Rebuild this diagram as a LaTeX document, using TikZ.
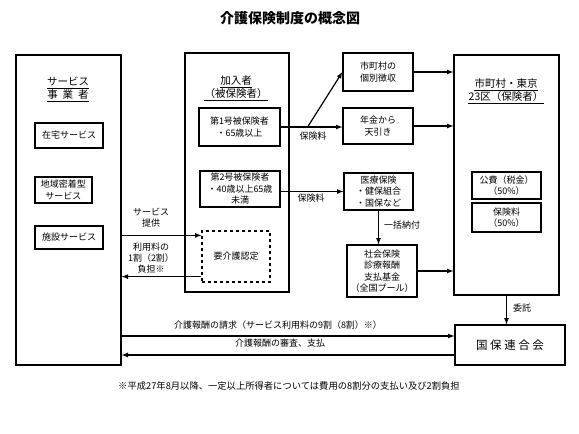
\documentclass[tikz,border=0pt]{standalone}
\usepackage{fontspec}
\setmainfont{Noto Sans CJK JP}
\usepackage{tikz}
\usepackage{xcolor}

\begin{document}
\begin{tikzpicture}[x=1pt,y=-1pt,
    bigbox/.style={draw,line width=1.2pt},
    box/.style={draw,line width=1.2pt,align=center,inner sep=1pt,font=\fontsize{9}{11.5}\selectfont},
    head/.style={inner sep=0pt,font=\fontsize{10.5}{14}\selectfont},
    lbl/.style={align=center,font=\fontsize{9}{11}\selectfont},
    arr/.style={-latex,line width=1.2pt}]
    \useasboundingbox (0,0) rectangle (579,434);

    % Title
    \node[font=\fontsize{14}{16}\selectfont\bfseries] (title) at (290,18) {介護保険制度の概念図};

    % Service providers
    \node[bigbox,minimum width=105pt,minimum height=310pt] (prov) at (68.5,210) {};
    \node[head] (provhead1) at (68,81) {サービス};
    \node[head] (provhead2) at (68,95) {事\hspace{5pt}業\hspace{5pt}者};
    \node[box,minimum width=68pt,minimum height=25pt] (zaitaku) at (69,135.5) {在宅サービス};
    \node[box,minimum width=57pt,minimum height=26pt] (chiiki) at (63.5,190) {地域密着型\\サービス};
    \node[box,minimum width=68pt,minimum height=23pt] (shisetsu) at (69,237.5) {施設サービス};

    % Insured persons
    \node[bigbox,minimum width=104pt,minimum height=239pt] (kanyu) at (237,172.5) {};
    \node[head] (kanyuhead1) at (236,81) {加入者};
    \node[head] (kanyuhead2) at (236,94) {（被保険者）};
    \node[box,minimum width=81pt,minimum height=38pt] (dai1) at (239.5,127) {第1号被保険者\\・65歳以上};
    \node[box,minimum width=80pt,minimum height=36pt] (dai2) at (240,189) {第2号被保険者\\・40歳以上65歳\\未満};
    \node[box,dashed,minimum width=68pt,minimum height=51pt] (yokaigo) at (236,256.5) {要介護認定};

    % Collection
    \node[box,minimum width=70pt,minimum height=38pt] (kobetsu) at (378,72) {市町村の\\個別徴収};
    \node[box,minimum width=70pt,minimum height=36pt] (nenkin) at (378,126) {年金から\\天引き};
    \node[box,minimum width=69pt,minimum height=37pt] (iryo) at (378.5,191.5) {医療保険\\・健保組合\\・国保など};
    \node[box,minimum width=70pt,minimum height=52pt] (shiharai) at (382,271) {社会保険\\診療報酬\\支払基金\\（全国プール）};

    % Insurer
    \node[bigbox,minimum width=105pt,minimum height=240pt] (hoken) at (506.5,175) {};
    \node[head] (hokenhead1) at (506,83) {市町村・東京};
    \node[head] (hokenhead2) at (506,97) {23区（保険者）};
    \node[box,minimum width=69pt,minimum height=27pt] (kohi) at (506.5,185.5) {公費（税金）\\（50\%）};
    \node[box,minimum width=69pt,minimum height=29pt] (hokenryo) at (506.5,217.5) {保険料\\（50\%）};
    \node[box,minimum width=110pt,minimum height=40pt,font=\fontsize{11.5}{13}\selectfont] (kokuho) at (510,345) {国 保 連 合 会};

    % Underlines
    \foreach \h in {provhead1,provhead2,kanyuhead1,kanyuhead2,hokenhead1,hokenhead2}
        \draw[line width=1pt] ([yshift=-3pt]\h.base west) -- ([yshift=-3pt]\h.base east);

    % Premiums
    \coordinate (br1) at ([xshift=27pt]dai1.east);
    \draw[line width=1.2pt] (dai1.east) -- (br1);
    \draw[arr] (br1) -- (kobetsu.west);
    \draw[arr] (br1) -- (nenkin.west |- br1);
    \node[lbl] (ryo1) at (313,136) {保険料};
    \draw[arr] (kobetsu.east) -- (hoken.west |- kobetsu.east);
    \draw[arr] (nenkin.east) -- (hoken.west |- nenkin.east);
    \draw[arr] (dai2.east |- iryo.west) -- (iryo.west);
    \node[lbl] (ryo2) at (311,198) {保険料};
    \draw[arr] (iryo.south) -- (iryo.south |- shiharai.north);
    \node[lbl] (ikkatsu) at (402,225) {一括納付};
    \draw[arr] (shiharai.east) -- (hoken.west |- shiharai.east);
    \draw[arr] (hoken.south) -- (hoken.south |- kokuho.north);
    \node[lbl] (itaku) at (522,308) {委託};

    % Services
    \coordinate (teikyo) at ([yshift=-5pt]yokaigo.north west);
    \coordinate (futan) at ([yshift=6pt]yokaigo.south west);
    \draw[arr] (prov.east |- teikyo) -- (teikyo);
    \draw[arr] (futan) -- (prov.east |- futan);
    \node[lbl] (teikyolbl) at (151,218) {サービス\\提供};
    \node[lbl] (futanlbl) at (151,258) {利用料の\\1割（2割）\\負担※};

    % Claims
    \coordinate (seikyu) at ([yshift=9pt]kokuho.west);
    \coordinate (shinsa) at ([yshift=-10pt]kokuho.west);
    \draw[arr] (prov.east |- seikyu) -- (seikyu);
    \draw[arr] (shinsa) -- (prov.east |- shinsa);
    \node[lbl] (seikyulbl) at (278,325) {介護報酬の請求（サービス利用料の9割（8割）※）};
    \node[lbl] (shinsalbl) at (280,343) {介護報酬の審査、支払};

    % Note
    \node[lbl,font=\fontsize{9.3}{11}\selectfont] (note) at (289,386) {※平成27年8月以降、一定以上所得者については費用の8割分の支払い及び2割負担};
\end{tikzpicture}
\end{document}
